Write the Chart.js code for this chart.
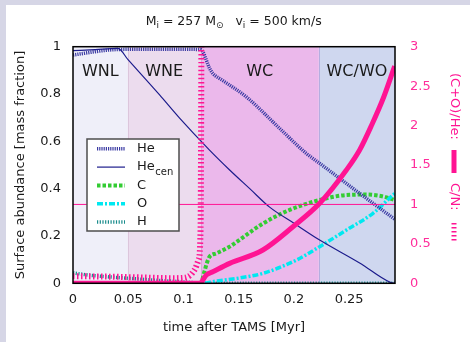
<!DOCTYPE html>
<html>
<head>
<meta charset="utf-8">
<script src="https://cdn.jsdelivr.net/npm/chart.js@4/dist/chart.umd.min.js"></script>
<style>
  html, body { margin: 0; padding: 0; background: #ffffff; }
  #wrap { width: 470px; height: 342px; position: relative; }
</style>
</head>
<body>
<div id="wrap"><canvas id="c" width="470" height="342"></canvas></div>
<script>
// ---- axis ticks ----
const xTicks = [0, 0.05, 0.1, 0.15, 0.2, 0.25];
const xTickLabels = ['0', '0.05', '0.1', '0.15', '0.2', '0.25'];
const yTicks = [0, 0.2, 0.4, 0.6, 0.8, 1];
const yTickLabels = ['0', '0.2', '0.4', '0.6', '0.8', '1'];
const y2Ticks = [0, 0.5, 1, 1.5, 2, 2.5, 3];
const y2TickLabels = ['0', '0.5', '1', '1.5', '2', '2.5', '3'];
const tMax = 0.2915;

// ---- Wolf-Rayet phases (time after TAMS, Myr) ----
const phaseNames = ['WNL', 'WNE', 'WC', 'WC/WO'];
const phaseStart = [0, 0.0496, 0.1155, 0.2226];
const phaseEnd = [0.0496, 0.1155, 0.2226, 0.2915];

// ---- surface He mass fraction ----
const heSurfT = [0, 0.01, 0.02, 0.03, 0.04, 0.06, 0.08, 0.1, 0.1155, 0.118, 0.1207, 0.1235, 0.1266, 0.135, 0.1569, 0.187, 0.2112, 0.2233, 0.2595, 0.2915];
const heSurf = [0.965, 0.972, 0.979, 0.985, 0.988, 0.989, 0.989, 0.989, 0.988, 0.975, 0.943, 0.91, 0.887, 0.859, 0.788, 0.655, 0.549, 0.507, 0.380, 0.270];

// ---- central He mass fraction ----
const heCenT = [0, 0.02, 0.0406, 0.05, 0.0784, 0.0965, 0.1236, 0.1418, 0.16, 0.178, 0.2, 0.2233, 0.2595, 0.2867, 0.2915];
const heCen = [0.983, 0.988, 0.993, 0.944, 0.796, 0.698, 0.563, 0.479, 0.40, 0.322, 0.254, 0.183, 0.086, 0.005, 0.0];

// ---- surface C ----
const cT = [0, 0.1155, 0.117, 0.119, 0.1215, 0.1236, 0.13, 0.1418, 0.155, 0.172, 0.1961, 0.2233, 0.2475, 0.2656, 0.2797, 0.2915];
const cVal = [0, 0, 0.015, 0.05, 0.09, 0.112, 0.127, 0.155, 0.198, 0.253, 0.31, 0.352, 0.373, 0.375, 0.368, 0.352];

// ---- surface O ----
const oT = [0, 0.117, 0.1266, 0.15, 0.172, 0.2022, 0.2233, 0.2475, 0.2716, 0.2897, 0.2915];
const oVal = [0, 0, 0.007, 0.022, 0.042, 0.098, 0.155, 0.225, 0.296, 0.373, 0.38];

// ---- surface H ----
const hT = [0, 0.012, 0.03, 0.051, 0.075, 0.0965, 0.108, 0.1155, 0.2915];
const hVal = [0.044, 0.036, 0.028, 0.021, 0.013, 0.007, 0.003, 0, 0];

// ---- (C+O)/He ratio (right axis) ----
const coHeT = [0, 0.1155, 0.1175, 0.1207, 0.1266, 0.1418, 0.1719, 0.1991, 0.2233, 0.2475, 0.2595, 0.2704, 0.2813, 0.2912];
const coHe = [0, 0, 0.04, 0.105, 0.147, 0.253, 0.422, 0.717, 1.014, 1.436, 1.69, 2.007, 2.362, 2.753];

// ---- C/N ratio (right axis) ----
const cnT = [0, 0.03, 0.06, 0.09, 0.1, 0.106, 0.11, 0.1137, 0.1155, 0.1163];
const cnVal = [0.09, 0.085, 0.075, 0.065, 0.07, 0.1, 0.17, 0.3, 0.7, 3.2];

// ---- ratio = 1 reference ----
const unityT = [0, tMax];
const unityVal = [1, 1];

const pts = (t, v) => t.map((x, i) => ({ x: x, y: v[i] }));

const PINK = '#ff1493';
const FONT = '"DejaVu Sans", "Liberation Sans", sans-serif';
const phaseFill = ['#efeff9', '#ecdcee', '#ebb8eb', '#cfd7ef'];
const legendLabels = ['He', 'He', 'C', 'O', 'H'];
const legendSubs = ['', 'cen', '', '', ''];

const decor = {
  id: 'decor',
  beforeDraw(chart) {
    const ctx = chart.ctx;
    ctx.save();
    ctx.fillStyle = '#d6d6e6';
    ctx.fillRect(0, 0, chart.width, chart.height);
    ctx.fillStyle = '#ffffff';
    ctx.fillRect(6, 5, chart.width - 6, chart.height - 5);
    ctx.restore();
  },
  beforeDatasetsDraw(chart) {
    const ctx = chart.ctx, a = chart.chartArea, xs = chart.scales.x;
    ctx.save();
    phaseNames.forEach((n, i) => {
      const x0 = xs.getPixelForValue(phaseStart[i]);
      const x1 = xs.getPixelForValue(phaseEnd[i]);
      ctx.fillStyle = phaseFill[i];
      ctx.fillRect(x0, a.top, x1 - x0, a.bottom - a.top);
    });
    // thin phase boundaries
    const edgeCol = ['#dcc6dc', '#d9a8d9', '#b4aee0'];
    for (let i = 1; i < phaseNames.length; i++) {
      const xb = Math.round(xs.getPixelForValue(phaseStart[i])) + 0.5;
      ctx.strokeStyle = edgeCol[i - 1];
      ctx.lineWidth = 1;
      ctx.beginPath();
      ctx.moveTo(xb, a.top);
      ctx.lineTo(xb, a.bottom);
      ctx.stroke();
    }
    ctx.font = '16px ' + FONT;
    ctx.fillStyle = '#1a1a1a';
    ctx.textAlign = 'center';
    ctx.textBaseline = 'middle';
    phaseNames.forEach((n, i) => {
      const xc = (xs.getPixelForValue(phaseStart[i]) + xs.getPixelForValue(phaseEnd[i])) / 2;
      ctx.fillText(n, xc, a.top + 25);
    });
    ctx.restore();
  },
  afterDatasetsDraw(chart) {
    const ctx = chart.ctx, a = chart.chartArea;
    ctx.save();
    // plot frame
    ctx.strokeStyle = '#000000';
    ctx.lineWidth = 1.5;
    ctx.strokeRect(a.left, a.top, a.right - a.left, a.bottom - a.top);

    // legend box
    const bx = 87, by = 139, bw = 92, bh = 92;
    ctx.fillStyle = '#ffffff';
    ctx.fillRect(bx, by, bw, bh);
    ctx.strokeStyle = '#4d4d4d';
    ctx.lineWidth = 1.5;
    ctx.strokeRect(bx, by, bw, bh);
    for (let i = 0; i < legendLabels.length; i++) {
      const ds = chart.data.datasets[i];
      const yy = 148.8 + i * 18.3;
      ctx.strokeStyle = ds.borderColor;
      ctx.lineWidth = ds.borderWidth;
      ctx.setLineDash(ds.borderDash || []);
      ctx.lineCap = 'butt';
      ctx.beginPath();
      ctx.moveTo(97, yy);
      ctx.lineTo(125, yy);
      ctx.stroke();
      ctx.setLineDash([]);
      ctx.fillStyle = '#1a1a1a';
      ctx.font = '13px ' + FONT;
      ctx.textAlign = 'left';
      ctx.textBaseline = 'middle';
      ctx.fillText(legendLabels[i], 137, yy);
      if (legendSubs[i]) {
        const w = ctx.measureText(legendLabels[i]).width;
        ctx.font = '10px ' + FONT;
        ctx.fillText(legendSubs[i], 137 + w + 0.5, yy + 5);
      }
    }
    ctx.restore();
  },
  afterDraw(chart) {
    const ctx = chart.ctx;
    ctx.save();
    ctx.fillStyle = '#1a1a1a';
    // title with subscripts
    const segs = [
      ['M', 0], ['i', 1], [' = 257 M', 0], ['\u2299', 1], ['   v', 0], ['i', 1], [' = 500 km/s', 0]
    ];
    const fMain = '12.5px ' + FONT, fSub = '9px ' + FONT;
    let total = 0;
    segs.forEach(s => { ctx.font = s[1] ? fSub : fMain; total += ctx.measureText(s[0]).width; });
    let xp = 233.7 - total / 2;
    ctx.textAlign = 'left';
    ctx.textBaseline = 'alphabetic';
    segs.forEach(s => {
      ctx.font = s[1] ? fSub : fMain;
      ctx.fillText(s[0], xp, s[1] ? 28 : 25);
      xp += ctx.measureText(s[0]).width;
    });

    // axis titles
    ctx.font = '13px ' + FONT;
    ctx.textAlign = 'center';
    ctx.textBaseline = 'middle';
    ctx.fillText('time after TAMS [Myr]', 234, 327.5);
    ctx.save();
    ctx.translate(21, 165);
    ctx.rotate(-Math.PI / 2);
    ctx.fillText('Surface abundance [mass fraction]', 0, 0);
    ctx.restore();

    // right-hand label with line samples
    ctx.save();
    ctx.translate(454, 73);
    ctx.rotate(Math.PI / 2);
    ctx.fillStyle = PINK;
    ctx.textAlign = 'left';
    ctx.textBaseline = 'middle';
    ctx.font = '13px ' + FONT;
    ctx.fillText('(C+O)/He:', 0, 0);
    ctx.strokeStyle = PINK;
    ctx.lineWidth = 5;
    ctx.beginPath();
    ctx.moveTo(77, 0);
    ctx.lineTo(100, 0);
    ctx.stroke();
    ctx.fillText('C/N:', 110, 0);
    ctx.lineWidth = 5;
    ctx.setLineDash([1.5, 2.5]);
    ctx.beginPath();
    ctx.moveTo(150, 0);
    ctx.lineTo(168, 0);
    ctx.stroke();
    ctx.restore();
    ctx.restore();
  }
};

const chart = new Chart(document.getElementById('c'), {
  type: 'line',
  data: {
    datasets: [
      { label: 'He', data: pts(heSurfT, heSurf), yAxisID: 'y', borderColor: '#3b3ba3', borderWidth: 3.5, borderDash: [1.2, 1], order: 4 },
      { label: 'He_cen', data: pts(heCenT, heCen), yAxisID: 'y', borderColor: '#1c1c8c', borderWidth: 1.2, order: 3 },
      { label: 'C', data: pts(cT, cVal), yAxisID: 'y', borderColor: '#33cc33', borderWidth: 4, borderDash: [3.5, 2], order: 6 },
      { label: 'O', data: pts(oT, oVal), yAxisID: 'y', borderColor: '#00e8f0', borderWidth: 3.5, borderDash: [6, 2, 2, 2], order: 5 },
      { label: 'H', data: pts(hT, hVal), yAxisID: 'y', borderColor: '#1a8c8c', borderWidth: 3.5, borderDash: [1.2, 1.5], order: 7 },
      { label: '(C+O)/He', data: pts(coHeT, coHe), yAxisID: 'y2', borderColor: PINK, borderWidth: 5, order: 1 },
      { label: 'C/N', data: pts(cnT, cnVal), yAxisID: 'y2', borderColor: PINK, borderWidth: 6, borderDash: [1.5, 2.5], order: 2, clip: { left: 0, top: 0, right: 0, bottom: 6 } },
      { label: 'unity', data: pts(unityT, unityVal), yAxisID: 'y2', borderColor: PINK, borderWidth: 1, order: 0, cubicInterpolationMode: 'default', tension: 0 }
    ]
  },
  options: {
    responsive: false,
    animation: false,
    events: [],
    layout: { padding: { top: 46.7, left: 0, right: 0, bottom: 0 } },
    elements: {
      point: { radius: 0 },
      line: { cubicInterpolationMode: 'monotone', borderCapStyle: 'butt', fill: false }
    },
    plugins: { legend: { display: false }, tooltip: { enabled: false }, title: { display: false } },
    scales: {
      x: {
        type: 'linear', position: 'bottom', min: 0, max: tMax,
        grid: { display: false, drawTicks: false },
        border: { display: false },
        afterBuildTicks: s => { s.ticks = xTicks.map(v => ({ value: v })); },
        afterFit: s => { s.height = 58.7; },
        ticks: {
          padding: 9, color: '#1a1a1a', maxRotation: 0, autoSkip: false,
          font: { family: FONT, size: 13 },
          callback: (v, i) => xTickLabels[i]
        }
      },
      y: {
        type: 'linear', position: 'left', min: 0, max: 1,
        grid: { display: false, drawTicks: false },
        border: { display: false },
        afterBuildTicks: s => { s.ticks = yTicks.map(v => ({ value: v })); },
        afterFit: s => { s.width = 73; },
        ticks: {
          padding: 12, color: '#1a1a1a', autoSkip: false,
          font: { family: FONT, size: 13 },
          callback: (v, i) => yTickLabels[i]
        }
      },
      y2: {
        type: 'linear', position: 'right', min: 0, max: 3,
        grid: { display: false, drawTicks: false },
        border: { display: false },
        afterBuildTicks: s => { s.ticks = y2Ticks.map(v => ({ value: v })); },
        afterFit: s => { s.width = 75; },
        ticks: {
          padding: 15, color: '#ff2d9b', autoSkip: false,
          font: { family: FONT, size: 13 },
          callback: (v, i) => y2TickLabels[i]
        }
      }
    }
  },
  plugins: [decor]
});
</script>
</body>
</html>
